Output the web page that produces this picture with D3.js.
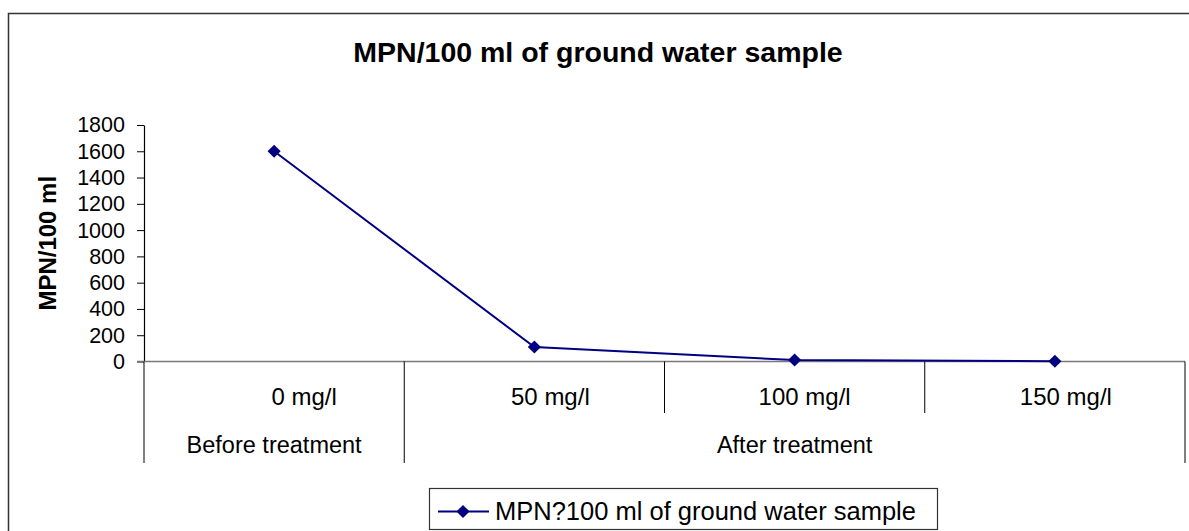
<!DOCTYPE html>
<html>
<head>
<meta charset="utf-8">
<script src="https://cdn.jsdelivr.net/npm/d3@7"></script>
<style>
  body { margin: 0; background: #fff; }
  svg { display: block; font-family: "Liberation Sans", Arial, sans-serif; }
</style>
</head>
<body>
<svg id="chart" width="1189" height="531"></svg>
<script>
// chart data
const categories = ["0 mg/l", "50 mg/l", "100 mg/l", "150 mg/l"];
const groups = ["Before treatment", "After treatment"];
const groupSizes = [1, 3];
const mpnValues = [1600, 110, 11, 2];
const yTicks = [0, 200, 400, 600, 800, 1000, 1200, 1400, 1600, 1800];
const chartTitle = "MPN/100 ml of ground water sample";
const yTitle = "MPN/100 ml";
const legendLabel = "MPN?100 ml of ground water sample";

const width = 1189;
const height = 531;
const plot = { left: 144, right: 1185, top: 125, bottom: 361.5 };
const lineColor = "#000080";
// excel put the category labels a bit right of the band centre
const labelNudge = [30, 16, 10, 11];

const svg = d3.select("#chart");

// outer chart border (right and bottom run off the picture)
svg.append("rect")
  .attr("x", 8.5)
  .attr("y", 13.5)
  .attr("width", width + 20)
  .attr("height", height + 20)
  .attr("fill", "#fff")
  .attr("stroke", "#333")
  .attr("stroke-width", 1.5);

svg.append("text")
  .attr("x", 598)
  .attr("y", 62)
  .attr("text-anchor", "middle")
  .attr("font-size", 28.5)
  .attr("font-weight", "bold")
  .text(chartTitle);

const x = d3.scaleBand()
  .domain(categories)
  .range([plot.left, plot.right])
  .padding(0);

const y = d3.scaleLinear()
  .domain([0, 1800])
  .range([plot.bottom, plot.top]);

// y axis
const yAxis = svg.append("g")
  .attr("transform", "translate(" + plot.left + ",0)")
  .call(d3.axisLeft(y)
    .tickValues(yTicks)
    .tickFormat(d3.format("d"))
    .tickSize(7)
    .tickPadding(12)
    .tickSizeOuter(0));
yAxis.select(".domain").attr("stroke", "#000").attr("stroke-width", 1.2);
yAxis.selectAll(".tick line").attr("stroke", "#000");
yAxis.selectAll(".tick text")
  .attr("font-size", 21.5)
  .attr("font-family", "Liberation Sans, Arial, sans-serif")
  .attr("fill", "#000");

svg.append("text")
  .attr("transform", "translate(56," + (plot.top + plot.bottom) / 2 + ") rotate(-90)")
  .attr("text-anchor", "middle")
  .attr("font-size", 24)
  .attr("font-weight", "bold")
  .text(yTitle);

// x axis line at zero
svg.append("line")
  .attr("x1", plot.left - 7)
  .attr("x2", plot.right)
  .attr("y1", y(0))
  .attr("y2", y(0))
  .attr("stroke", "#777")
  .attr("stroke-width", 1.5);

// category dividers
const catEdges = categories.map(c => x(c)).concat([plot.right]);
svg.append("g")
  .selectAll("line")
  .data(catEdges)
  .join("line")
  .attr("x1", d => d)
  .attr("x2", d => d)
  .attr("y1", y(0))
  .attr("y2", 413)
  .attr("stroke", "#000")
  .attr("stroke-width", 1);

svg.append("g")
  .selectAll("text")
  .data(categories)
  .join("text")
  .attr("x", (d, i) => x(d) + x.bandwidth() / 2 + labelNudge[i])
  .attr("y", 405)
  .attr("text-anchor", "middle")
  .attr("font-size", 24)
  .text(d => d);

// group level
let start = 0;
const groupRanges = groups.map((g, i) => {
  const first = categories[start];
  const last = categories[start + groupSizes[i] - 1];
  start += groupSizes[i];
  return { name: g, x0: x(first), x1: x(last) + x.bandwidth() };
});

const groupEdges = [groupRanges[0].x0].concat(groupRanges.map(g => g.x1));
svg.append("g")
  .selectAll("line")
  .data(groupEdges)
  .join("line")
  .attr("x1", d => d)
  .attr("x2", d => d)
  .attr("y1", 413)
  .attr("y2", 463)
  .attr("stroke", "#000")
  .attr("stroke-width", 1);

svg.append("g")
  .selectAll("text")
  .data(groupRanges)
  .join("text")
  .attr("x", d => (d.x0 + d.x1) / 2)
  .attr("y", 453)
  .attr("text-anchor", "middle")
  .attr("font-size", 23.5)
  .text(d => d.name);

// series line + markers
const points = categories.map((c, i) => ({ cat: c, value: mpnValues[i] }));
const line = d3.line()
  .x(d => x(d.cat) + x.bandwidth() / 2)
  .y(d => y(d.value));

svg.append("path")
  .datum(points)
  .attr("d", line)
  .attr("fill", "none")
  .attr("stroke", lineColor)
  .attr("stroke-width", 2);

const diamond = d3.symbol().type(d3.symbolDiamond2).size(110);
svg.append("g")
  .selectAll("path")
  .data(points)
  .join("path")
  .attr("transform", d => "translate(" + (x(d.cat) + x.bandwidth() / 2) + "," + y(d.value) + ")")
  .attr("d", diamond)
  .attr("fill", lineColor);

// legend
const legend = svg.append("g");
legend.append("rect")
  .attr("x", 429.5)
  .attr("y", 488.5)
  .attr("width", 508)
  .attr("height", 41)
  .attr("fill", "#fff")
  .attr("stroke", "#333")
  .attr("stroke-width", 1.2);
legend.append("line")
  .attr("x1", 438)
  .attr("x2", 489)
  .attr("y1", 511.5)
  .attr("y2", 511.5)
  .attr("stroke", lineColor)
  .attr("stroke-width", 2);
legend.append("path")
  .attr("transform", "translate(463,511.5)")
  .attr("d", diamond)
  .attr("fill", lineColor);
legend.append("text")
  .attr("x", 495)
  .attr("y", 519.5)
  .attr("font-size", 25.5)
  .text(legendLabel);
</script>
</body>
</html>
